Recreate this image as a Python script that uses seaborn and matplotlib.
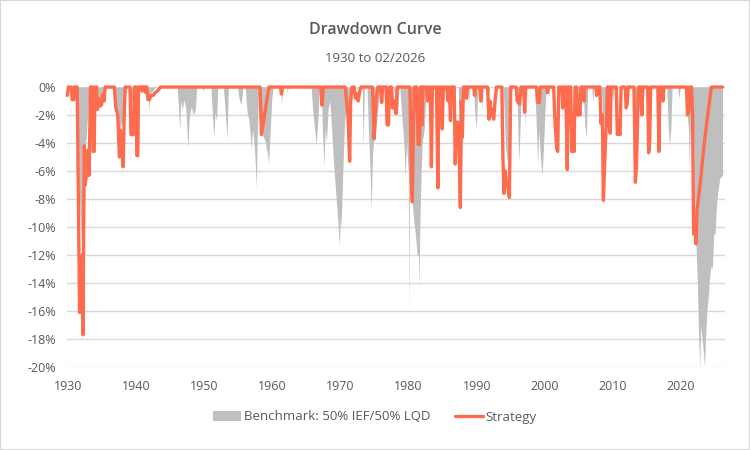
import numpy as np
import pandas as pd
import matplotlib
matplotlib.use('Agg')
import matplotlib.pyplot as plt
import seaborn as sns
from matplotlib.patches import Patch, Rectangle
from matplotlib.lines import Line2D
from matplotlib.ticker import FuncFormatter

# =========================
# DATA (drawdown in %)
# =========================
bench_year = [
    1929.9, 1930.0, 1930.15, 1930.55, 1930.7, 1930.9,
    1931.3, 1931.5, 1931.75, 1932.0, 1932.2, 1932.4, 1932.7, 1933.0, 1933.2,
    1933.6, 1933.75, 1933.9, 1934.3, 1934.5, 1934.8, 1935.2, 1935.5,
    1936.8, 1937.0, 1937.3, 1937.6, 1937.9, 1938.2, 1938.4, 1939.1, 1939.3, 1939.6,
    1941.7, 1941.85, 1942.0, 1942.4, 1942.8,
    1946.0, 1946.2, 1946.4, 1946.55, 1946.8, 1947.0, 1947.3, 1947.6, 1947.8, 1948.1, 1948.4, 1948.7, 1948.9,
    1949.7, 1949.8, 1950.0,
    1951.0, 1951.2, 1951.4, 1951.6, 1951.8, 1952.0,
    1952.8, 1953.0, 1953.35, 1953.55,
    1954.9, 1955.1, 1955.4, 1955.7,
    1956.0, 1956.3, 1956.6, 1956.9, 1957.1, 1957.4, 1957.65, 1957.8, 1958.0,
    1958.3, 1958.6, 1958.9, 1959.2, 1959.45, 1959.7, 1959.9, 1960.1,
    1961.2, 1961.35, 1961.5, 1962.1, 1962.2, 1962.3,
    1965.7, 1965.9, 1966.1, 1966.45, 1966.7, 1966.9,
    1967.2, 1967.35, 1967.55, 1967.75, 1967.95, 1968.2, 1968.45, 1968.7, 1969.0, 1969.3,
    1969.6, 1969.85, 1970.0, 1970.1, 1970.35, 1970.6, 1970.9, 1971.2, 1971.5, 1971.8,
    1972.4, 1972.5, 1972.6, 1973.2, 1973.35, 1973.5,
    1973.9, 1974.1, 1974.35, 1974.5, 1974.7, 1974.9, 1975.2, 1975.5, 1975.8,
    1976.5, 1976.9, 1977.2, 1977.8, 1978.0, 1978.4, 1978.6,
    1978.7, 1979.0, 1979.3, 1979.5, 1979.7, 1979.95, 1980.05, 1980.12, 1980.3, 1980.5,
    1980.75, 1981.0, 1981.25, 1981.45, 1981.55, 1981.65, 1981.85, 1982.0, 1982.3, 1982.6,
    1983.2, 1983.4, 1983.6, 1984.1, 1984.35, 1984.6,
    1987.3, 1987.55, 1987.75, 1987.95,
    1988.6, 1988.8, 1989.0, 1989.5, 1989.75, 1989.95, 1990.1, 1990.3,
    1990.6, 1990.8, 1991.0, 1991.5, 1991.7, 1991.9,
    1993.9, 1994.2, 1994.5, 1994.8, 1995.0,
    1995.9, 1996.05, 1996.2, 1996.4, 1996.55, 1996.9, 1997.05, 1997.2,
    1998.5, 1998.7, 1998.95, 1999.1, 1999.35, 1999.6, 1999.8, 2000.0, 2000.2,
    2000.5, 2000.6, 2000.7,
    2005.6, 2005.85, 2006.1, 2006.3, 2006.9, 2007.05, 2007.2, 2007.7, 2007.9, 2008.1,
    2008.3, 2008.6, 2008.9, 2009.2, 2009.8, 2010.0, 2010.2,
    2013.2, 2013.5, 2013.8, 2015.0, 2015.3, 2015.5, 2016.6, 2016.8, 2017.0,
    2017.9, 2018.1, 2018.3, 2018.5, 2018.7, 2019.5, 2019.7, 2019.9,
    2020.7, 2020.9, 2021.1, 2021.25, 2021.4, 2021.6, 2021.8, 2022.0, 2022.2, 2022.4,
    2022.6, 2022.75, 2022.9, 2023.1, 2023.3, 2023.45, 2023.6, 2023.8, 2024.0, 2024.2,
    2024.4, 2024.6, 2024.8, 2025.0, 2025.2, 2025.4, 2025.7, 2026.1,
]
bench_dd = [
    0, -0.4, 0, 0, -0.7, 0,
    0, -4, -9, -11.3, -9, -5, -3.5, -1, 0,
    0, -3, 0, 0, -1.0, -0.8, -0.6, 0,
    0, -2, -2.6, -3.2, -2.4, -2.6, 0, 0, -1.5, 0,
    0, -1.8, -0.5, -0.3, 0,
    0, -1.2, -3.1, -1.0, -1.6, -0.9, -1.5, -4.4, -2.2, -1.4, -2.0, -1.6, 0,
    0, -0.3, 0,
    0, -2.0, -3.6, -1.8, -2.4, 0,
    0, -1.2, -3.7, 0,
    0, -0.8, -1.3, 0,
    0, -1.8, -2.5, -4.4, -3.0, -4.5, -7.2, -3.0, 0,
    -2.0, -3.5, -3.8, -4.5, -5.4, -3.0, -1.0, 0,
    0, -1.3, 0, 0, -0.4, 0,
    0, -1.5, -2.5, -4.1, -2.2, 0,
    0, -3.0, -5.7, -3.0, -3.9, -1.5, -1.0, -3.0, -5.5, -7.5,
    -9.5, -11.4, -9.0, -10.1, -6.0, -2.5, -1.5, -3.0, -2.0, 0,
    0, -0.5, 0, 0, -4.4, 0,
    0, -3.0, -6.0, -8.8, -5.0, -3.5, -3.0, -1.5, 0,
    0, -2.0, 0, 0, -1.0, -1.8, 0,
    0, -2.0, -4.0, -6.4, -4.0, -6.0, -16.4, -7.0, -6.0, -8.0,
    -9.5, -10.5, -12.0, -12.0, -14.3, -10.0, -6.0, -4.0, -3.0, 0,
    0, -3.0, 0, 0, -5.0, 0,
    0, -6.0, -7.0, 0,
    0, -1.2, 0, 0, -2.0, -3.0, -1.0, 0,
    0, -1.5, 0, 0, -1.0, 0,
    0, -4.0, -5.4, -4.0, 0,
    0, -3.0, -5.4, -2.5, 0, 0, -2.9, 0,
    0, -2.0, -5.6, -3.0, -5.0, -6.3, -4.5, -2.0, 0,
    0, -0.8, 0,
    0, -2.5, -3.7, 0, 0, -1.1, 0, 0, -1.0, 0,
    0, -3.0, -2.0, 0, 0, -1.0, 0,
    0, -5.5, 0, 0, -3.0, 0, 0, -4.9, 0,
    0, -2.5, -4.2, -3.0, 0, 0, -0.8, 0,
    0, -2.0, -3.0, -6.0, -2.0, -1.0, -2.0, -8.0, -11.3, -14.0,
    -18.0, -20.0, -17.0, -18.0, -19.0, -20.0, -18.0, -16.0, -15.0, -13.5,
    -12.8, -13.0, -10.5, -10.5, -8.5, -7.5, -6.5, -6.3,
]

strat_year = [
    1929.9, 1930.05, 1930.5, 1930.6, 1930.85, 1930.95,
    1931.35, 1931.55, 1931.7, 1931.95, 1932.05, 1932.2, 1932.3, 1932.4, 1932.5,
    1932.65, 1932.8, 1932.95, 1933.1, 1933.3,
    1933.6, 1933.7, 1933.85, 1933.95, 1934.2, 1934.3, 1934.45, 1934.6, 1934.75,
    1934.9, 1935.1, 1935.3, 1935.45,
    1936.8, 1937.0, 1937.3, 1937.55, 1937.7, 1937.9, 1938.1, 1938.25, 1938.4,
    1939.1, 1939.25, 1939.6, 1939.75, 1940.0, 1940.1, 1940.25, 1940.35,
    1940.8, 1940.9, 1941.0, 1941.3, 1941.4, 1941.5,
    1941.6, 1941.75, 1941.95, 1942.2, 1942.5, 1942.8, 1943.1, 1943.6,
    1958.2, 1958.4, 1959.5,
    1961.2, 1961.35, 1961.5, 1967.1, 1967.3, 1967.5,
    1970.7, 1970.9, 1971.1, 1971.35, 1971.5, 1971.7,
    1972.0, 1972.2, 1972.4, 1972.6, 1972.8, 1973.0,
    1974.7, 1974.95, 1975.2, 1975.5, 1975.9, 1976.05, 1976.2,
    1976.7, 1976.85, 1977.05, 1977.2, 1977.5, 1977.65, 1977.9, 1978.15, 1978.35,
    1980.2, 1980.4, 1980.55, 1980.7, 1980.85,
    1981.2, 1981.4, 1981.6, 1981.75, 1981.9, 1982.0, 1982.1,
    1982.6, 1982.8, 1982.95, 1983.2, 1983.35, 1983.5,
    1984.1, 1984.3, 1984.45, 1984.8, 1984.95, 1985.1,
    1985.6, 1985.8, 1985.95, 1986.0, 1986.15, 1986.3,
    1986.7, 1986.85, 1987.0, 1987.2, 1987.4, 1987.6, 1987.75, 1987.9, 1988.05,
    1988.4, 1988.5, 1988.6, 1989.6, 1989.7, 1989.8, 1990.5, 1990.6, 1990.7,
    1991.6, 1991.8, 1991.95, 1992.1, 1992.3, 1992.5, 1992.7, 1992.9,
    1993.7, 1993.85, 1994.0, 1994.2, 1994.4, 1994.6, 1994.8, 1995.0,
    1995.8, 1995.95, 1996.3, 1996.5, 1996.9, 1997.05, 1997.2,
    1998.8, 1998.95, 1999.1, 1999.2, 1999.35, 2000.3, 2000.4, 2000.5,
    2001.3, 2001.5, 2001.75, 2001.9, 2002.05, 2002.5, 2002.65, 2002.8,
    2003.1, 2003.3, 2003.45, 2003.8, 2003.95, 2004.15, 2004.3, 2004.45,
    2004.7, 2004.85, 2005.0, 2005.15, 2005.3, 2005.6, 2005.75, 2005.9,
    2007.5, 2007.6, 2007.7,
    2008.1, 2008.25, 2008.45, 2008.6, 2008.75, 2008.9, 2009.05, 2009.2,
    2009.45, 2009.6, 2009.75,
    2010.5, 2010.65, 2010.85, 2011.05, 2011.2, 2011.8, 2011.95, 2012.1, 2012.25,
    2013.1, 2013.3, 2013.45, 2013.6, 2013.75, 2014.1, 2014.25, 2014.4,
    2015.1, 2015.25, 2015.4, 2015.55, 2016.6, 2016.75, 2016.9, 2017.2, 2017.35, 2017.5,
    2020.8, 2020.95, 2021.1, 2021.25,
    2021.55, 2021.7, 2021.85, 2022.05, 2022.2, 2022.35, 2022.8, 2023.3, 2023.8, 2024.45,
    2026.1,
]
strat_dd = [
    -0.6, 0, 0, -0.9, -0.9, 0,
    0, -9, -16.1, -16.1, -12, -17.7, -10, -4.2, -7.0,
    -6.5, -6.3, -4.5, -6.3, 0,
    0, -4.6, -4.6, 0, 0, -1.6, -0.8, -1.4, -1.2,
    -1.3, -0.5, -1.0, 0,
    0, -1.4, -2.0, -5.0, -3.1, -4.0, -5.7, -2.0, 0,
    0, -3.4, -3.4, 0, 0, -4.9, -4.9, 0,
    0, -0.3, 0, 0, -0.4, 0,
    0, -0.9, -0.9, -0.6, -0.6, -0.4, -0.3, 0,
    0, -3.4, 0,
    0, -0.5, 0, 0, -1.3, 0,
    0, -1.0, -2.0, -5.3, -1.0, 0,
    0, -0.8, -0.5, -1.0, -0.4, 0,
    0, -3.7, -1.0, 0, 0, -1.1, 0,
    0, -2.7, -2.7, 0, 0, -1.5, -1.0, -1.9, 0,
    0, -6.0, -8.2, -3.0, 0,
    0, -4.1, -4.1, 0, 0, -2.7, 0,
    0, -1.0, 0, 0, -5.7, 0,
    0, -7.2, 0, 0, -3.0, 0,
    0, -1.0, 0, 0, -2.4, 0,
    0, -5.5, -3.0, -2.5, -4.0, -8.6, -1.0, -3.6, 0,
    0, -0.8, 0, 0, -0.6, 0, 0, -1.0, 0,
    0, -2.3, -1.0, -2.0, -1.6, -2.3, -1.0, 0,
    0, -5.0, -7.6, -6.0, -7.0, -7.2, -7.9, 0,
    0, -1.0, -1.2, 0, 0, -1.8, 0,
    0, -1.1, -0.6, -1.1, 0, 0, -0.4, 0,
    0, -2.5, -4.4, -4.6, 0, 0, -1.5, 0,
    0, -5.9, 0, 0, -4.6, -2.0, -4.6, 0,
    0, -2.0, -1.0, -2.0, 0, 0, -1.0, 0,
    0, -0.6, 0,
    0, -2.6, -2.0, -8.1, -6.0, -4.0, -2.6, 0,
    0, -3.3, 0,
    0, -3.4, -3.0, -3.4, 0, 0, -1.5, -1.2, 0,
    0, -6.8, -5.8, -3.0, 0, 0, -2.0, 0,
    0, -4.7, -3.9, 0, 0, -4.6, 0, 0, -1.0, 0,
    0, -2.0, -1.8, 0,
    0, -2.0, -10.5, -10.0, -11.2, -8.8, -7.0, -4.5, -2.5, 0,
    0,
]

TITLE = 'Drawdown Curve'
SUBTITLE = '1930 to 02/2026'
BENCH_LABEL = 'Benchmark: 50% IEF/50% LQD'
STRAT_LABEL = 'Strategy'
YEAR_TICKS = list(range(1930, 2030, 10))
PCT_TICKS = list(range(-20, 1, 2))

GREY = '#BFBFBF'
ORANGE = '#FF6B4D'
TEXT = '#595959'
GRID = '#D9D9D9'

bench = pd.DataFrame({'year': bench_year, 'dd': bench_dd})
strat = pd.DataFrame({'year': strat_year, 'dd': strat_dd})

# =========================
# PLOT
# =========================
sns.set_theme(style='white')
plt.rcParams['font.family'] = ['Open Sans', 'DejaVu Sans']

fig = plt.figure(figsize=(7.5, 4.5), dpi=100)
ax = fig.add_axes([0.0893, 0.1844, 0.8773, 0.6222])

ax.fill_between(bench['year'], bench['dd'], 0, color=GREY, lw=0, zorder=2)
sns.lineplot(data=strat, x='year', y='dd', color=ORANGE, lw=2.4, ax=ax,
             zorder=3, clip_on=False, sort=False, estimator=None)

ax.set_xlim(1929.85, 2026.45)
ax.set_ylim(-20, 0)
ax.set_yticks(PCT_TICKS)
ax.yaxis.set_major_formatter(FuncFormatter(lambda v, p: f'{int(round(v))}%'))
ax.set_xticks(YEAR_TICKS)
ax.tick_params(axis='both', length=0, labelsize=9, labelcolor=TEXT)
ax.tick_params(axis='x', pad=9)
ax.tick_params(axis='y', pad=8)
ax.grid(axis='y', color=GRID, lw=1, zorder=0)
ax.set_axisbelow(True)
for s in ax.spines.values():
    s.set_visible(False)
ax.set_xlabel('')
ax.set_ylabel('')

fig.text(0.5, 1 - 30 / 450, TITLE, ha='center', va='center', fontsize=11.5,
         color=TEXT, weight='semibold')
fig.text(0.5, 1 - 58 / 450, SUBTITLE, ha='center', va='center', fontsize=9.5,
         color=TEXT)

handles = [Patch(facecolor=GREY, edgecolor='none', label=BENCH_LABEL),
           Line2D([0], [0], color=ORANGE, lw=2.4, label=STRAT_LABEL)]
leg = fig.legend(handles=handles, loc='center', bbox_to_anchor=(0.5, 1 - 417 / 450),
                 ncol=2, frameon=False, fontsize=9.5, handlelength=2.1,
                 handleheight=0.8, handletextpad=0.2, columnspacing=1.9)
for t in leg.get_texts():
    t.set_color(TEXT)

fig.patches.append(Rectangle((0, 0), 1, 1, transform=fig.transFigure, fill=False,
                             ec=GRID, lw=1.5, zorder=10))

fig.savefig('out.png', dpi=100)
